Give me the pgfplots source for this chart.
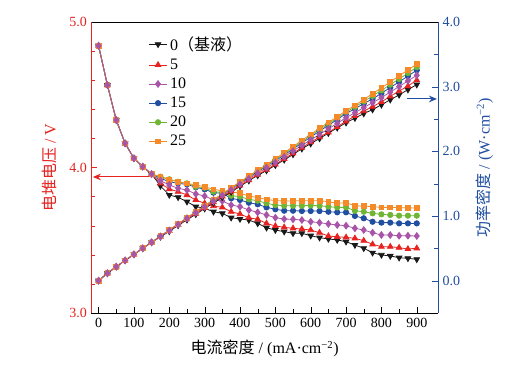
\documentclass[border=0pt]{standalone}
\usepackage{fontspec}
\setmainfont{Liberation Serif}
\newfontfamily\cjk{Noto Sans CJK SC}
\usepackage{pgfplots}
\usepackage{pgfplotstable}
\pgfplotsset{compat=1.18}
\usetikzlibrary{arrows.meta}

\definecolor{cRed}{RGB}{230,35,32}
\definecolor{cBlue}{RGB}{32,78,160}
\definecolor{cPurple}{RGB}{168,84,168}
\definecolor{cGreen}{RGB}{112,182,52}
\definecolor{cOrange}{RGB}{244,138,40}
\definecolor{cBlack}{RGB}{25,25,25}

% x  V  P
\pgfplotstableread{
x V P
0 4.837 0
25 4.567 0.1142
50 4.326 0.2163
75 4.166 0.3125
100 4.063 0.4063
125 4.006 0.5008
150 3.955 0.5933
175 3.873 0.6778
200 3.811 0.7622
225 3.795 0.8539
250 3.765 0.9413
275 3.731 1.0260
300 3.720 1.1160
325 3.696 1.2012
350 3.685 1.2898
375 3.655 1.3706
400 3.646 1.4584
425 3.639 1.5466
450 3.616 1.6272
475 3.586 1.7034
500 3.570 1.7850
525 3.559 1.8685
550 3.548 1.9514
575 3.548 2.0401
600 3.531 2.1186
625 3.518 2.1988
650 3.509 2.2809
675 3.502 2.3639
700 3.490 2.4430
725 3.467 2.5136
750 3.445 2.5838
775 3.414 2.6459
800 3.399 2.7192
825 3.392 2.7984
850 3.380 2.8730
875 3.376 2.9540
900 3.369 3.0321
}\dataA

\pgfplotstableread{
x V P
0 4.837 0
25 4.567 0.1142
50 4.326 0.2163
75 4.166 0.3125
100 4.063 0.4063
125 4.006 0.5008
150 3.955 0.5933
175 3.891 0.6809
200 3.852 0.7704
225 3.834 0.8627
250 3.811 0.9528
275 3.777 1.0387
300 3.754 1.1262
325 3.735 1.2139
350 3.726 1.3041
375 3.696 1.3860
400 3.680 1.4720
425 3.655 1.5534
450 3.644 1.6398
475 3.616 1.7176
500 3.598 1.7990
525 3.589 1.8842
550 3.582 1.9701
575 3.577 2.0568
600 3.570 2.1420
625 3.552 2.2200
650 3.529 2.2939
675 3.524 2.3787
700 3.520 2.4640
725 3.513 2.5469
750 3.497 2.6228
775 3.472 2.6908
800 3.456 2.7648
825 3.456 2.8512
850 3.449 2.9317
875 3.440 3.0100
900 3.445 3.1005
}\dataB

\pgfplotstableread{
x V P
0 4.837 0
25 4.567 0.1142
50 4.326 0.2163
75 4.166 0.3125
100 4.063 0.4063
125 4.006 0.5008
150 3.955 0.5933
175 3.909 0.6841
200 3.880 0.7760
225 3.857 0.8678
250 3.845 0.9613
275 3.818 1.0500
300 3.804 1.1412
325 3.777 1.2275
350 3.770 1.3195
375 3.742 1.4033
400 3.731 1.4924
425 3.708 1.5759
450 3.692 1.6614
475 3.674 1.7452
500 3.655 1.8275
525 3.646 1.9142
550 3.644 2.0042
575 3.639 2.0924
600 3.627 2.1762
625 3.621 2.2631
650 3.612 2.3478
675 3.605 2.4334
700 3.600 2.5200
725 3.582 2.5970
750 3.570 2.6775
775 3.552 2.7528
800 3.536 2.8288
825 3.536 2.9172
850 3.531 3.0014
875 3.531 3.0896
900 3.529 3.1761
}\dataC

\pgfplotstableread{
x V P
0 4.837 0
25 4.567 0.1142
50 4.326 0.2163
75 4.166 0.3125
100 4.063 0.4063
125 4.006 0.5008
150 3.955 0.5933
175 3.926 0.6871
200 3.902 0.7804
225 3.891 0.8755
250 3.884 0.9710
275 3.864 1.0626
300 3.850 1.1550
325 3.827 1.2438
350 3.823 1.3381
375 3.788 1.4205
400 3.777 1.5108
425 3.758 1.5972
450 3.747 1.6862
475 3.726 1.7699
500 3.713 1.8565
525 3.703 1.9441
550 3.703 2.0367
575 3.701 2.1281
600 3.701 2.2206
625 3.701 2.3131
650 3.696 2.4024
675 3.692 2.4921
700 3.692 2.5844
725 3.667 2.6586
750 3.651 2.7383
775 3.627 2.8109
800 3.621 2.8968
825 3.621 2.9873
850 3.616 3.0736
875 3.616 3.1640
900 3.616 3.2544
}\dataD

\pgfplotstableread{
x V P
0 4.837 0
25 4.567 0.1142
50 4.326 0.2163
75 4.166 0.3125
100 4.063 0.4063
125 4.006 0.5008
150 3.955 0.5933
175 3.937 0.6890
200 3.919 0.7838
225 3.902 0.8780
250 3.891 0.9728
275 3.868 1.0637
300 3.861 1.1583
325 3.834 1.2461
350 3.829 1.3402
375 3.806 1.4273
400 3.800 1.5200
425 3.781 1.6069
450 3.772 1.6974
475 3.754 1.7832
500 3.742 1.8710
525 3.737 1.9619
550 3.737 2.0554
575 3.737 2.1488
600 3.739 2.2434
625 3.737 2.3356
650 3.731 2.4252
675 3.726 2.5151
700 3.726 2.6082
725 3.703 2.6847
750 3.696 2.7720
775 3.685 2.8559
800 3.678 2.9424
825 3.674 3.0311
850 3.669 3.1187
875 3.669 3.2104
900 3.669 3.3021
}\dataE

\pgfplotstableread{
x V P
0 4.837 0
25 4.567 0.1142
50 4.326 0.2163
75 4.166 0.3125
100 4.063 0.4063
125 4.006 0.5008
150 3.955 0.5933
175 3.937 0.6890
200 3.915 0.7830
225 3.902 0.8780
250 3.891 0.9728
275 3.880 1.0670
300 3.868 1.1604
325 3.850 1.2513
350 3.840 1.3440
375 3.834 1.4378
400 3.823 1.5292
425 3.804 1.6167
450 3.793 1.7069
475 3.781 1.7960
500 3.772 1.8860
525 3.770 1.9793
550 3.770 2.0735
575 3.772 2.1689
600 3.772 2.2632
625 3.772 2.3575
650 3.765 2.4473
675 3.754 2.5340
700 3.758 2.6306
725 3.737 2.7093
750 3.735 2.8013
775 3.731 2.8915
800 3.726 2.9808
825 3.726 3.0740
850 3.724 3.1654
875 3.724 3.2585
900 3.720 3.3480
}\dataF

\pgfplotsset{
  sA/.style={cBlack, line width=0.6pt, mark=triangle*, mark size=2.4pt, mark options={rotate=180, solid, fill=cBlack}},
  sB/.style={cRed, line width=0.6pt, mark=triangle*, mark size=2.4pt, mark options={solid, fill=cRed}},
  sC/.style={cPurple, line width=0.6pt, mark=diamond*, mark size=2.5pt, mark options={solid, fill=cPurple}},
  sD/.style={cBlue, line width=0.6pt, mark=*, mark size=2.0pt, mark options={solid, fill=cBlue}},
  sE/.style={cGreen, line width=0.6pt, mark=*, mark size=2.0pt, mark options={solid, fill=cGreen}},
  sF/.style={cOrange, line width=0.6pt, mark=square*, mark size=1.8pt, mark options={solid, fill=cOrange}},
  common/.style={
    at={(0,0)}, anchor=south west, scale only axis,
    width=259.875pt, height=218.25pt,
    xmin=-20, xmax=960,
    tick align=inside,
    major tick length=4.5pt, minor tick length=2.8pt,
    /pgf/number format/assume math mode=true,
    tick label style={font=\fontsize{10.5}{12}\selectfont},
    label style={font=\fontsize{12}{14}\selectfont},
  },
}

\begin{document}
\begin{tikzpicture}
\path[use as bounding box] (-68.625pt,-46.5pt) rectangle (322.125pt,234.75pt);

\begin{axis}[common,
  ymin=3, ymax=5,
  axis x line*=bottom, axis y line*=left,
  xtick={0,100,...,900}, minor x tick num=1,
  ytick={3,4,5}, minor y tick num=4,
  yticklabel style={text=cRed, /pgf/number format/.cd, fixed, fixed zerofill, precision=1},
  y axis line style={draw=cRed},
  y tick style={draw=cRed},
  x tick style={draw=black},
  xlabel={{\cjk 电流密度} / (mA·cm\textsuperscript{−2})},
  ylabel={{\cjk 电堆电压} / V},
  xlabel shift=3pt,
  ylabel shift=2.5pt,
  ylabel style={text=cRed},
  legend style={at={(rel axis cs:0.16,0.965)}, anchor=north west, draw=none, fill=none,
    font=\fontsize{12}{14}\selectfont, row sep=0.9pt, inner sep=1pt},
  legend cell align=left,
  legend image code/.code={\draw[mark repeat=2,mark phase=2] plot coordinates {(0cm,0cm) (0.24cm,0cm) (0.48cm,0cm)};},
]
\addlegendimage{sA}
\addlegendentry{0{\cjk （基液）}}
\addlegendimage{sB}
\addlegendentry{5}
\addlegendimage{sC}
\addlegendentry{10}
\addlegendimage{sD}
\addlegendentry{15}
\addlegendimage{sE}
\addlegendentry{20}
\addlegendimage{sF}
\addlegendentry{25}
\addplot[sA, forget plot] table[x=x, y=V] {\dataA};
\addplot[sB, forget plot] table[x=x, y=V] {\dataB};
\addplot[sD, forget plot] table[x=x, y=V] {\dataD};
\addplot[sE, forget plot] table[x=x, y=V] {\dataE};
\addplot[sF, forget plot] table[x=x, y=V] {\dataF};
\addplot[sC, forget plot] table[x=x, y=V] {\dataC};
\draw[cRed, line width=0.7pt, -{Stealth[length=6pt, width=5pt]}] (axis cs:150,3.935) -- (axis cs:-16,3.935);
\end{axis}

\begin{axis}[common,
  ymin=-0.5, ymax=4,
  axis x line*=top, axis y line*=right,
  xtick=\empty,
  ytick={0,1,2,3,4}, minor y tick num=1,
  yticklabel style={text=cBlue, /pgf/number format/.cd, fixed, fixed zerofill, precision=1},
  y axis line style={draw=cBlue},
  y tick style={draw=cBlue},
  ylabel={{\cjk 功率密度} / (W·cm\textsuperscript{−2})},
  ylabel shift=5pt,
  ylabel style={text=cBlue},
]
\addplot[sA] table[x=x, y=P] {\dataA};
\addplot[sB] table[x=x, y=P] {\dataB};
\addplot[sD] table[x=x, y=P] {\dataD};
\addplot[sE] table[x=x, y=P] {\dataE};
\addplot[sF] table[x=x, y=P] {\dataF};
\addplot[sC] table[x=x, y=P] {\dataC};
\draw[cBlue, line width=0.7pt, -{Stealth[length=6pt, width=5pt]}] (axis cs:872,2.81) -- (axis cs:957,2.81);
\end{axis}
\end{tikzpicture}
\end{document}
